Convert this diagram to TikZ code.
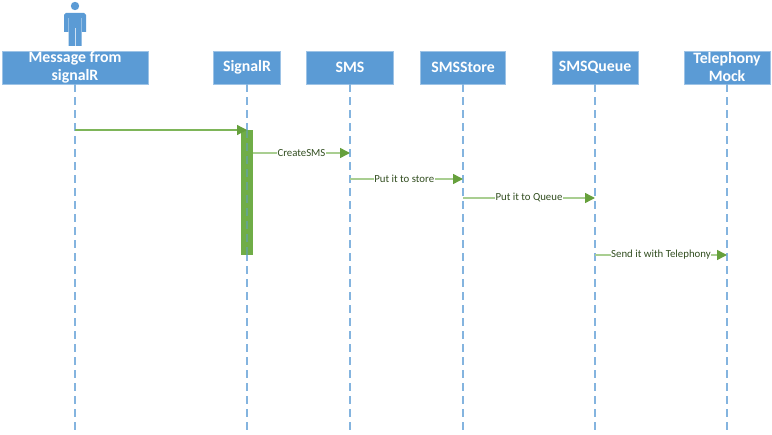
\documentclass[tikz,border=0pt]{standalone}
\usepackage{fontspec}
\setmainfont{Carlito}
\usetikzlibrary{arrows.meta}
\definecolor{boxblue}{HTML}{5B9BD5}
\definecolor{msggreen}{HTML}{70AD47}
\definecolor{tipgreen}{HTML}{66A03C}
\tikzset{
    actorbox/.style={rectangle, draw=boxblue!60, fill=boxblue, text=white, font=\fontsize{15.8}{18}\selectfont\bfseries, align=center, inner sep=0pt, line width=0.6pt},
    lifeline/.style={draw=boxblue!75, dash pattern=on 8pt off 5pt, line width=1.15pt},
    msg/.style={draw=msggreen!60, line width=1.5pt, -{Triangle[length=10pt, width=10pt, fill=tipgreen, color=tipgreen]}},
    msglabel/.style={fill=white, text=msggreen!45!black, font=\fontsize{10.8}{12}\selectfont, inner xsep=0.5pt, inner ysep=1pt}
}
\begin{document}
\begin{tikzpicture}[x=1pt, y=-1pt]
    \useasboundingbox (0, 0) rectangle (772, 435);

    % actor on top of the first box
    \fill[boxblue] (75, 6) circle (4.2);
    \fill[boxblue] (66, 13) -- (84, 13) -- (86, 15) -- (86, 32) -- (82, 32) -- (82, 18) -- (81.5, 18) -- (81.5, 46) -- (68.5, 46) -- (68.5, 18) -- (68, 18) -- (68, 32) -- (64, 32) -- (64, 15) -- cycle;
    \draw[white!70!boxblue, line width=0.6pt] (75, 28) -- (75, 46);

    % boxes
    \node[actorbox, minimum width=146, minimum height=33] (message) at (75, 67.5) {Message from\\signalR};
    \node[actorbox, minimum width=67, minimum height=33] (signalr) at (247, 67.5) {SignalR};
    \node[actorbox, minimum width=87, minimum height=33] (sms) at (350, 67.5) {SMS};
    \node[actorbox, minimum width=85, minimum height=33] (smsstore) at (463, 67.5) {SMSStore};
    \node[actorbox, minimum width=86, minimum height=33] (smsqueue) at (595, 67.5) {SMSQueue};
    \node[actorbox, minimum width=86, minimum height=33] (telephony) at (727, 67.5) {Telephony\\Mock};

    % ends of the lifelines
    \coordinate (messageend) at (75, 433);
    \coordinate (signalrend) at (247, 433);
    \coordinate (smsend) at (350, 433);
    \coordinate (smsstoreend) at (463, 433);
    \coordinate (smsqueueend) at (595, 433);
    \coordinate (telephonyend) at (727, 433);

    \draw[lifeline] (message) -- (messageend);
    \draw[lifeline] (signalr) -- (signalrend);
    \draw[lifeline] (sms) -- (smsend);
    \draw[lifeline] (smsstore) -- (smsstoreend);
    \draw[lifeline] (smsqueue) -- (smsqueueend);
    \draw[lifeline] (telephony) -- (telephonyend);

    % activation bar
    \node[rectangle, fill=msggreen, inner sep=0pt, minimum width=12, minimum height=125] (activation) at (247, 192.5) {};
    \coordinate (activationtop) at (247, 130);
    \coordinate (activationend) at (247, 255);
    \draw[lifeline, draw=boxblue!45!msggreen] (activationtop) -- (activationend);

    % message ends
    \coordinate (m1a) at (75, 130);
    \coordinate (m2a) at (253, 153);
    \coordinate (m2b) at (350, 153);
    \coordinate (m3a) at (350, 179);
    \coordinate (m3b) at (463, 179);
    \coordinate (m4a) at (463, 198);
    \coordinate (m4b) at (595, 198);
    \coordinate (m5a) at (595, 255);
    \coordinate (m5b) at (727, 255);

    \draw[msg, draw=msggreen!90, line width=1.2pt] (m1a) -- (activationtop);
    \draw[msg] (m2a) -- node[msglabel, pos=0.5] {CreateSMS} (m2b);
    \draw[msg] (m3a) -- node[msglabel, pos=0.48] {Put it to store} (m3b);
    \draw[msg] (m4a) -- node[msglabel, pos=0.5] {Put it to Queue} (m4b);
    \draw[msg] (m5a) -- node[msglabel, pos=0.5] {Send it with Telephony} (m5b);
\end{tikzpicture}
\end{document}
